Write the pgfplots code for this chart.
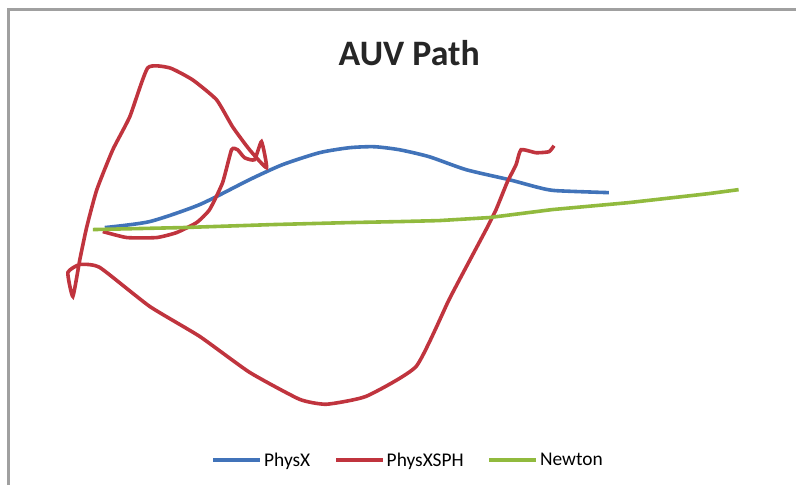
\documentclass[border=0pt]{standalone}
\usepackage{pgfplots}
\pgfplotsset{compat=1.18}
\usepackage{fontspec}
\setmainfont{Carlito}
\definecolor{cblue}{RGB}{65,115,185}
\definecolor{cred}{RGB}{192,52,62}
\definecolor{cgreen}{RGB}{145,186,62}
\definecolor{frame}{RGB}{160,160,160}
\begin{document}
\begin{tikzpicture}
\begin{axis}[
  scale only axis, width=797bp, height=486bp,
  xmin=0, xmax=797, ymin=0, ymax=486, y dir=reverse,
  hide axis, clip=false,
  legend columns=3,
  legend style={at={(axis cs:409,461)}, anchor=center, draw=none, fill=none,
    font=\fontsize{19.5}{21}\selectfont, inner sep=0pt,
    /tikz/every even column/.append style={column sep=22bp},
    nodes={inner sep=2bp}},
  legend image code/.code={\draw[#1] (0bp,0bp) -- (47bp,0bp);},
]
\path (axis cs:0,0) rectangle (axis cs:797,486);
\draw[frame, line width=3bp] (axis cs:9,486) -- (axis cs:9,10) -- (axis cs:797,10);
\node[font=\bfseries\fontsize{36}{40}\selectfont, text=black!85] at (axis cs:410,53) {AUV Path};

\addplot[cblue, line width=3.6bp, smooth, tension=0.4] coordinates {
(105,228) (150,222) (200,205) (250,180) (283,165) (320,153) (350,148) (375,147)
(400,150) (430,157) (467,170) (510,180) (540,188) (557,191) (610,193)};
\addlegendentry{PhysX}

\addplot[cred, line width=3.6bp, smooth, tension=0.3] coordinates {
(103,232) (127,238) (157,238) (177,233) (197,223) (210,210) (223,183) (232,150)
(238,150) (245,158) (255,160) (262,142) (267,168) (250,150) (233,127) (217,100)
(193,80) (170,68) (148,68) (130,117) (113,150) (97,190) (87,227) (80,260)
(73,297) (68,273) (80,265) (100,268) (150,307) (200,337) (250,373) (300,400)
(327,405) (367,397) (417,367) (450,300) (470,262) (487,230) (497,210) (508,183)
(517,165) (522,150) (537,153) (550,152) (555,146)};
\addlegendentry{PhysXSPH}

\addplot[cgreen, line width=3.6bp] coordinates {
(93,230) (183,228) (273,225) (350,223) (400,222) (440,221) (490,218) (553,210)
(630,203) (710,194) (740,190)};
\addlegendentry{Newton}
\end{axis}
\end{tikzpicture}
\end{document}
